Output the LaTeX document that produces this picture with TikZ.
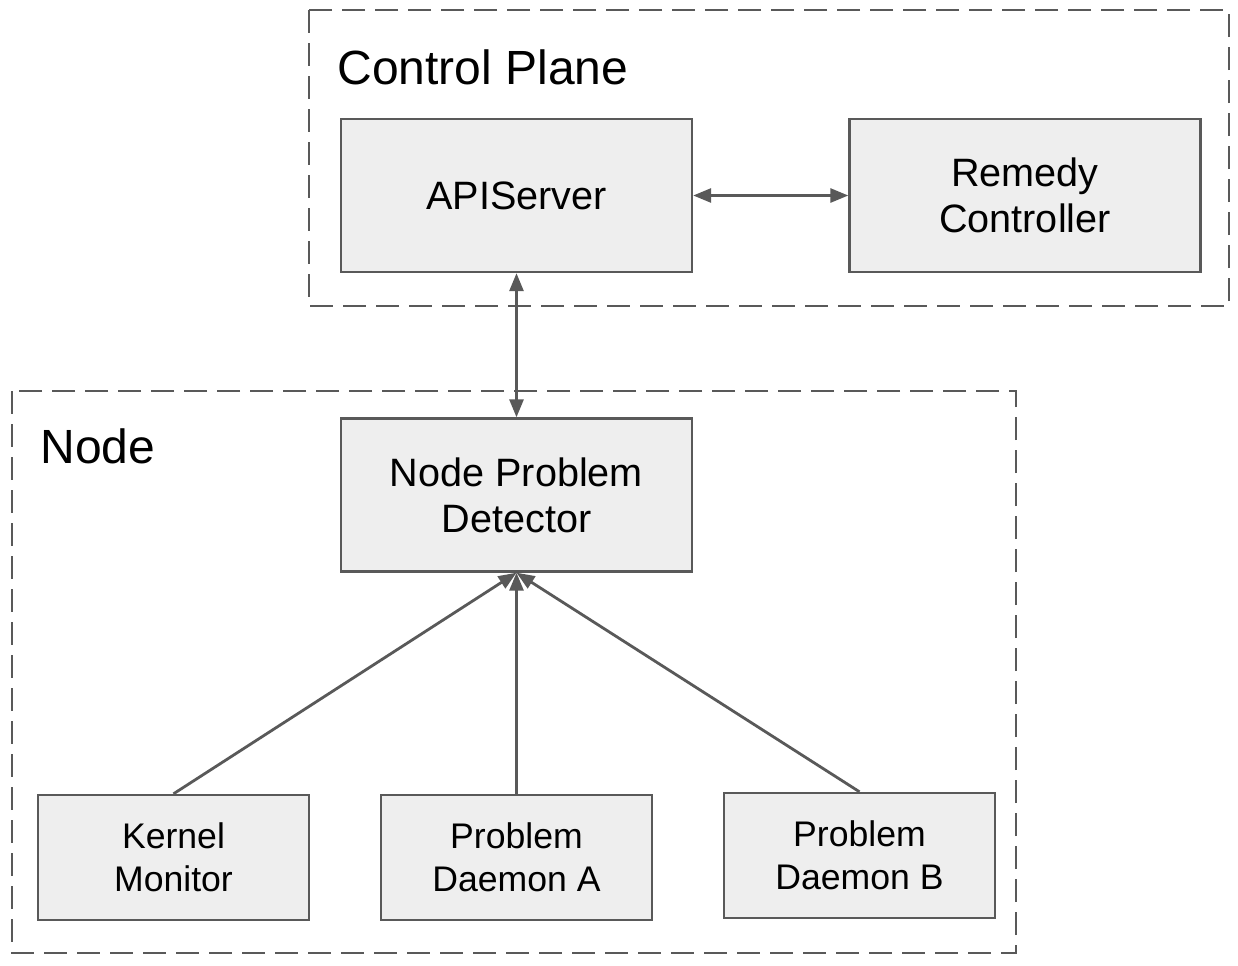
\documentclass[tikz,border=0pt]{standalone}
\usepackage{fontspec}
\setmainfont{Liberation Sans}
\usetikzlibrary{arrows.meta}
\definecolor{lc}{HTML}{595959}
\definecolor{bf}{HTML}{EEEEEE}
\begin{document}
\begin{tikzpicture}[x=0.5pt,y=-0.5pt,
  box/.style={draw=lc,line width=1.2pt,fill=bf,align=center,inner sep=0pt},
  bigbox/.style={box,minimum width=175.5pt,minimum height=76.5pt,font=\fontsize{19.8}{23}\selectfont},
  smallbox/.style={box,minimum width=135.5pt,minimum height=62.5pt,font=\fontsize{17.8}{21.5}\selectfont},
  group/.style={draw=lc,line width=1.1pt,dash pattern=on 11.5pt off 5pt},
  grouplabel/.style={anchor=base west,inner sep=0pt,font=\fontsize{24}{28}\selectfont},
  arr/.style={draw=lc,line width=1.4pt,-{Triangle[length=9pt,width=7pt]}},
  darr/.style={draw=lc,line width=1.4pt,{Triangle[length=9pt,width=7pt]}-{Triangle[length=9pt,width=7pt]}}]
\useasboundingbox[fill=white] (0,0) rectangle (1238,965);
% groups
\draw[group] (309,10) rectangle (1229,306);
\draw[group] (12,391) rectangle (1016,953);
\node[grouplabel] (cpl) at (337,84) {Control Plane};
\node[grouplabel] (nl) at (40,463) {Node};
% boxes
\node[bigbox] (api) at (516.5,195.5) {\raisebox{-1pt}{APIServer}};
\node[bigbox] (rem) at (1025,195.5) {Remedy\\Controller};
\node[bigbox] (npd) at (516.5,495) {Node Problem\\Detector};
\node[smallbox] (km) at (173.5,857.5) {Kernel\\Monitor};
\node[smallbox] (pda) at (516.5,857.5) {Problem\\Daemon A};
\node[smallbox] (pdb) at (859.5,855.5) {Problem\\Daemon B};
% connectors
\draw[darr] (api.east) -- (rem.west);
\draw[darr] (api.south) -- (npd.north);
\draw[arr] (km.north) -- (npd.south);
\draw[arr] (pda.north) -- (npd.south);
\draw[arr] (pdb.north) -- (npd.south);
\end{tikzpicture}
\end{document}
